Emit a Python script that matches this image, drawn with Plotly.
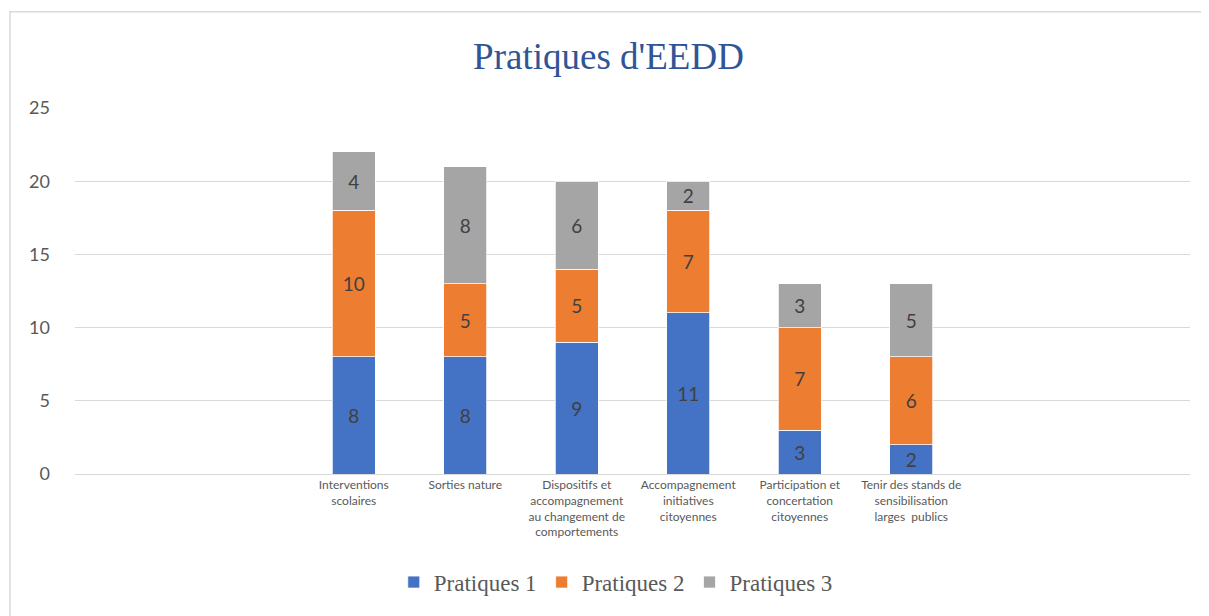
import plotly.graph_objects as go

categories = [
    "Interventions<br>scolaires",
    "Sorties nature",
    "Dispositifs et<br>accompagnement<br>au changement de<br>comportements",
    "Accompagnement<br>initiatives<br>citoyennes",
    "Participation et<br>concertation<br>citoyennes",
    "Tenir des stands de<br>sensibilisation<br>larges  publics",
]
pratiques_1 = [8, 8, 9, 11, 3, 2]
pratiques_2 = [10, 5, 5, 7, 7, 6]
pratiques_3 = [4, 8, 6, 2, 3, 5]

series = [
    ("Pratiques 1", pratiques_1, "#4472C4"),
    ("Pratiques 2", pratiques_2, "#ED7D31"),
    ("Pratiques 3", pratiques_3, "#A5A5A5"),
]

fig = go.Figure()
for name, vals, color in series:
    fig.add_trace(go.Bar(
        name=name, x=categories, y=vals,
        marker=dict(color=color, line=dict(color="white", width=0.75)),
        text=vals, textposition="inside", insidetextanchor="middle",
        textfont=dict(family="Lato, Open Sans, sans-serif", size=19, color="#404040"),
        textangle=0,
    ))

# page body has an 8px margin: figure coordinates are offset by 8px
W, H = 1201, 608
L, T = 67, 100
PW, PH = 1115, 369

fig.update_layout(
    barmode="stack",
    bargap=0.61,
    width=W, height=H,
    margin=dict(l=L, r=W - L - PW, t=T, b=H - T - PH),
    paper_bgcolor="white", plot_bgcolor="white",
    title=dict(text="Pratiques d'EEDD", x=0.5, xanchor="center", y=1 - 48 / H, yanchor="middle",
               font=dict(family="Liberation Serif, Times New Roman, serif", size=37, color="#2F5597")),
    legend=dict(orientation="h", x=0.485, xanchor="center", y=(T + PH - 578) / PH, yanchor="middle",
                font=dict(family="Liberation Serif, Times New Roman, serif", size=23, color="#595959"),
                itemwidth=30, traceorder="normal"),
    xaxis=dict(type="category", categoryorder="array", categoryarray=categories,
               range=[-2.5, 7.5], showgrid=False, ticks="", showline=True,
               linecolor="#d9d9d9", linewidth=1,
               tickfont=dict(family="Lato, Open Sans, sans-serif", size=12, color="#595959")),
    yaxis=dict(range=[0, 25], dtick=5, showgrid=True, gridcolor="#d9d9d9", gridwidth=1,
               zeroline=False, ticks="", ticklabelstandoff=24,
               tickfont=dict(family="Lato, Open Sans, sans-serif", size=18, color="#595959")),
    shapes=[dict(type="rect", xref="paper", yref="paper",
                 x0=(2 - L) / PW, x1=(1210 - L) / PW,
                 y0=(T + PH - 615) / PH, y1=(T + PH - 3) / PH,
                 line=dict(color="#d9d9d9", width=1.5), layer="below")],
)

fig.write_html("out.html")
